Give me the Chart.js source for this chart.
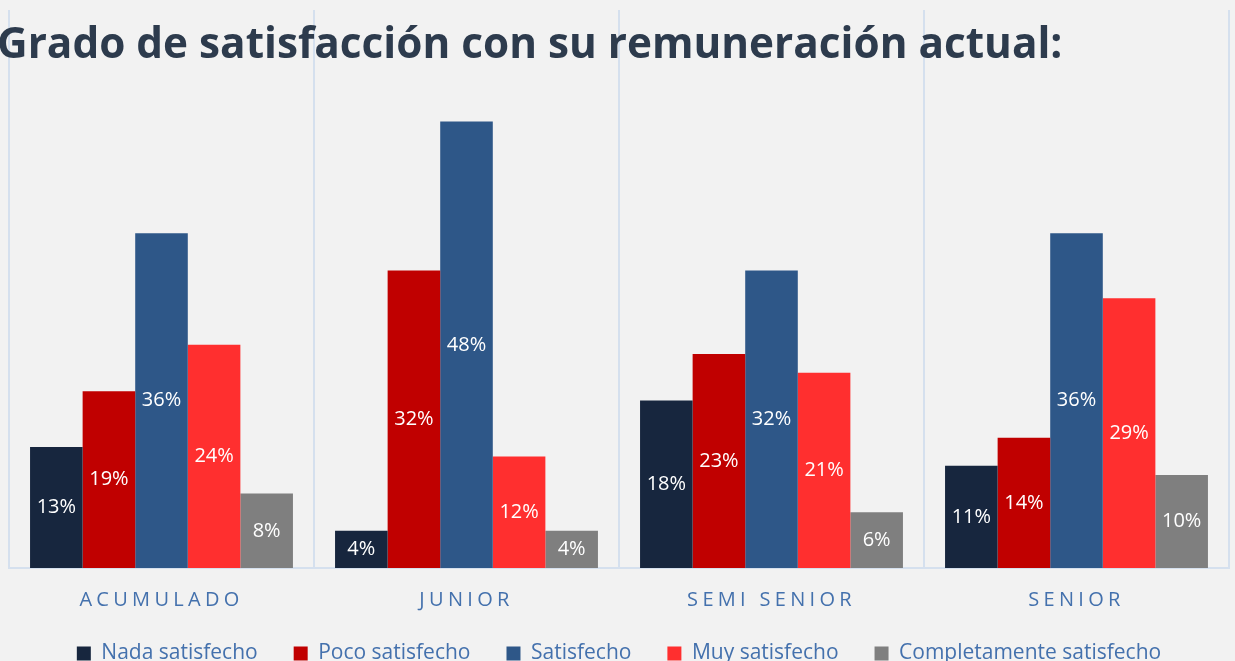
<!DOCTYPE html>
<html>
<head>
<meta charset="utf-8">
<script src="https://cdn.jsdelivr.net/npm/chart.js@4/dist/chart.umd.min.js"></script>
<style>
  html, body { margin: 0; padding: 0; background: #f2f2f2; overflow: hidden; }
  #wrap { position: relative; width: 1235px; height: 674px; }
  #title {
    position: absolute; left: -3px; top: 13px; z-index: 2;
    font-family: "Open Sans", sans-serif; font-weight: 700; font-size: 42.3px;
    color: #2d3b4d; white-space: nowrap;
  }
</style>
</head>
<body>
<div id="wrap">
  <div id="title">Grado de satisfacción con su remuneración actual:</div>
  <canvas id="chartCanvas" width="1235" height="674"></canvas>
</div>
<script>
var categories = ['ACUMULADO', 'JUNIOR', 'SEMI SENIOR', 'SENIOR'];
var nadaSatisfecho = [13, 4, 18, 11];
var pocoSatisfecho = [19, 32, 23, 14];
var satisfecho = [36, 48, 32, 36];
var muySatisfecho = [24, 12, 21, 29];
var completamenteSatisfecho = [8, 4, 6, 10];
var seriesNames = ['Nada satisfecho', 'Poco satisfecho', 'Satisfecho', 'Muy satisfecho', 'Completamente satisfecho'];
var seriesColors = ['#17263e', '#c00000', '#2e5788', '#ff2f2f', '#7f7f7f'];

var allSeries = [nadaSatisfecho, pocoSatisfecho, satisfecho, muySatisfecho, completamenteSatisfecho];
var datasets = allSeries.map(function (vals, i) {
  return {
    label: seriesNames[i],
    data: vals,
    backgroundColor: seriesColors[i],
    borderWidth: 0
  };
});

// value labels in the middle of each bar
var barLabels = {
  id: 'barLabels',
  afterDatasetsDraw: function (chart) {
    var ctx = chart.ctx;
    ctx.save();
    ctx.font = '20px "Open Sans", sans-serif';
    ctx.fillStyle = '#ffffff';
    ctx.textAlign = 'center';
    ctx.textBaseline = 'middle';
    chart.data.datasets.forEach(function (ds, di) {
      var meta = chart.getDatasetMeta(di);
      meta.data.forEach(function (bar, i) {
        var y = (bar.y + bar.base) / 2;
        ctx.fillText(ds.data[i] + '%', bar.x, y);
      });
    });
    ctx.restore();
  }
};

// category labels with letter spacing
var spacedTicks = {
  id: 'spacedTicks',
  afterDraw: function (chart) {
    var ctx = chart.ctx;
    var xs = chart.scales.x;
    ctx.save();
    ctx.font = '20px "Open Sans", sans-serif';
    ctx.fillStyle = '#4471ad';
    ctx.textAlign = 'center';
    ctx.textBaseline = 'middle';
    ctx.letterSpacing = '4.3px';
    categories.forEach(function (c, i) {
      ctx.fillText(c, xs.getPixelForTick(i), 600);
    });
    ctx.restore();
  }
};

new Chart(document.getElementById('chartCanvas'), {
  type: 'bar',
  data: { labels: categories, datasets: datasets },
  plugins: [barLabels, spacedTicks],
  options: {
    responsive: false,
    animation: false,
    layout: { padding: { left: 9, right: 6, top: 10, bottom: 0 } },
    datasets: {
      bar: { categoryPercentage: 0.862, barPercentage: 1 }
    },
    scales: {
      x: {
        grid: { color: '#d5e0ee', lineWidth: 2, offset: true, drawTicks: false },
        border: { color: '#d5e0ee', width: 2 },
        ticks: { color: 'rgba(0,0,0,0)', font: { size: 10, family: 'Open Sans' }, padding: 13.5 }
      },
      y: { display: false, min: 0, max: 60 }
    },
    plugins: {
      legend: {
        position: 'bottom',
        labels: {
          boxWidth: 14, boxHeight: 14, padding: 36,
          color: '#4471ad',
          font: { size: 21, family: 'Open Sans' }
        }
      },
      tooltip: { enabled: false }
    }
  }
});
</script>
</body>
</html>
